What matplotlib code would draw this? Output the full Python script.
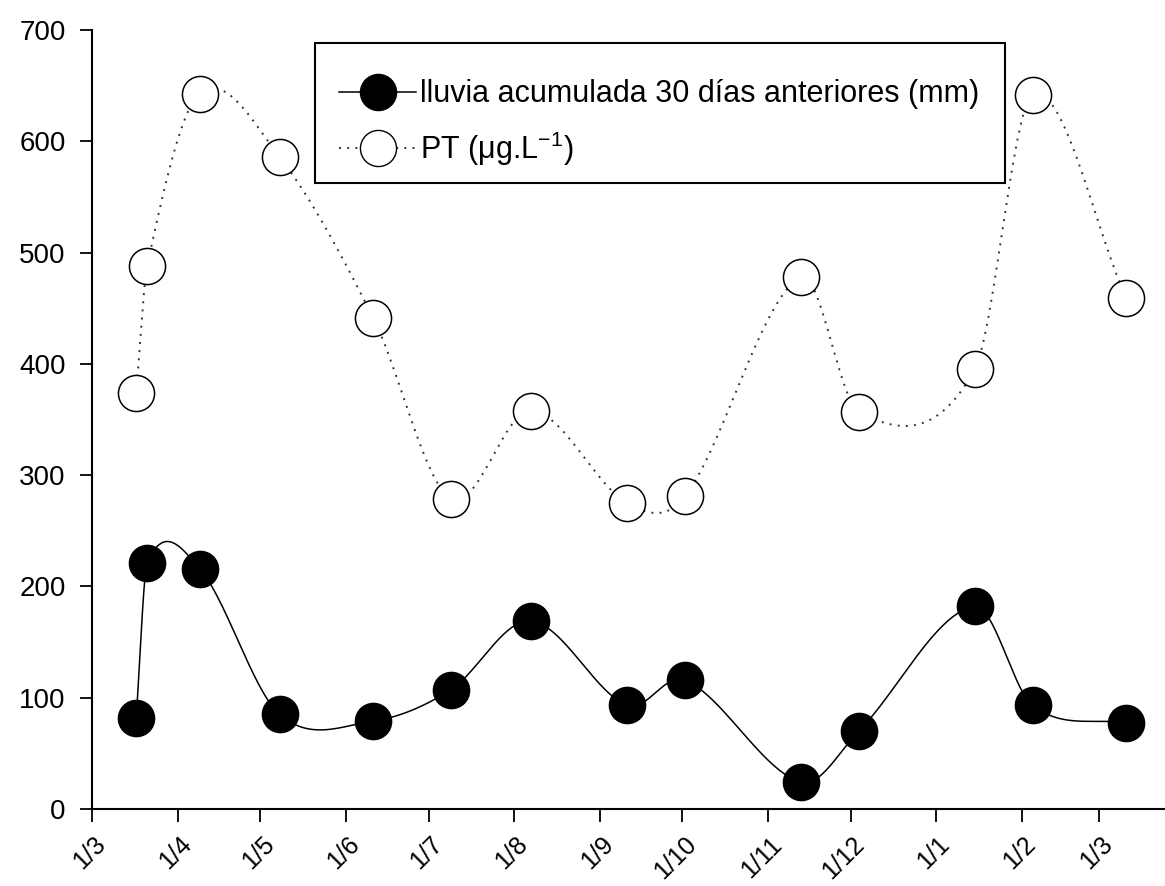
import numpy as np
import matplotlib
matplotlib.use("Agg")
import matplotlib.pyplot as plt
import matplotlib.dates as mdates
from matplotlib.lines import Line2D
from matplotlib.patches import Rectangle
from matplotlib.transforms import ScaledTranslation

plt.rcParams['font.family'] = ['Liberation Sans', 'DejaVu Sans']
plt.rcParams['mathtext.default'] = 'regular'

dates = ["2010-03-17", "2010-03-21", "2010-04-09", "2010-05-08", "2010-06-11",
         "2010-07-09", "2010-08-07", "2010-09-11", "2010-10-02", "2010-11-13",
         "2010-12-04", "2011-01-15", "2011-02-05", "2011-03-11"]
lluvia = [82, 221, 216, 85, 79, 107, 169, 93, 116, 24, 70, 182, 93, 77]
pt = [374, 488, 643, 586, 441, 279, 358, 275, 281, 478, 357, 395, 642, 459]
tick_dates = ["2010-03-01", "2010-04-01", "2010-05-01", "2010-06-01", "2010-07-01",
              "2010-08-01", "2010-09-01", "2010-10-01", "2010-11-01", "2010-12-01",
              "2011-01-01", "2011-02-01", "2011-03-01"]
tick_labels = ["1/3", "1/4", "1/5", "1/6", "1/7", "1/8", "1/9", "1/10",
               "1/11", "1/12", "1/1", "1/2", "1/3"]
label_lluvia = "lluvia acumulada 30 días anteriores (mm)"
label_pt = "PT (μg.L$^{-1}$)"

x = mdates.datestr2num(dates)
xt = mdates.datestr2num(tick_dates)


def catmull_rom(t, y, n=3000):
    t = np.asarray(t, float)
    y = np.asarray(y, float)
    m = np.zeros(len(t))
    m[1:-1] = (y[2:] - y[:-2]) / (t[2:] - t[:-2])
    m[0] = (y[1] - y[0]) / (t[1] - t[0])
    m[-1] = (y[-1] - y[-2]) / (t[-1] - t[-2])
    tt = np.linspace(t[0], t[-1], n)
    out = np.empty_like(tt)
    for k, v in enumerate(tt):
        i = min(max(np.searchsorted(t, v) - 1, 0), len(t) - 2)
        h = t[i + 1] - t[i]
        s = (v - t[i]) / h
        out[k] = ((2 * s**3 - 3 * s**2 + 1) * y[i] + (s**3 - 2 * s**2 + s) * h * m[i]
                  + (-2 * s**3 + 3 * s**2) * y[i + 1] + (s**3 - s**2) * h * m[i + 1])
    return tt, out


W, H = 1165, 886
fig = plt.figure(figsize=(W / 100, H / 100), dpi=100)
ax = fig.add_axes([0.079, 0.087, 0.921, 0.879])

sx1, sy1 = catmull_rom(x, lluvia)
sx2, sy2 = catmull_rom(x, pt)
dot_style = (0, (1, 3.2))
ax.plot(sx2, sy2, color='#333333', lw=1.4, ls=dot_style, zorder=2)
ax.plot(sx1, sy1, color='black', lw=1.1, zorder=2)
ax.plot(x, pt, ls='none', marker='o', ms=26, mfc='white', mec='black', mew=1.1, zorder=3)
ax.plot(x, lluvia, ls='none', marker='o', ms=26, mfc='black', mec='black', mew=1.1, zorder=4)

ax.set_xlim(mdates.datestr2num("2010-03-01"), mdates.datestr2num("2011-03-25"))
ax.set_ylim(0, 700)
ax.set_xticks(xt)
ax.set_xticklabels(tick_labels, rotation=45, ha='right', va='center',
                   rotation_mode='anchor', fontsize=18)
ax.set_yticks(np.arange(0, 701, 100))
ax.spines['top'].set_visible(False)
ax.spines['right'].set_visible(False)
ax.spines['left'].set_linewidth(1.5)
ax.spines['bottom'].set_linewidth(1.5)
ax.tick_params(axis='both', direction='out', length=9, width=1.3, colors='black')
ax.tick_params(axis='y', pad=10, labelsize=20)
ax.tick_params(axis='x', pad=14)
shift = ScaledTranslation(10 / 100, 0, fig.dpi_scale_trans)
for lab in ax.get_xticklabels():
    lab.set_transform(lab.get_transform() + shift)

handles = [
    Line2D([], [], color='black', lw=1.1, marker='o', ms=26, mfc='black', mec='black'),
    Line2D([], [], color='#333333', lw=1.4, ls=dot_style, marker='o', ms=26, mfc='white', mec='black'),
]
leg = ax.legend(handles, [label_lluvia, label_pt], loc='upper left',
                bbox_to_anchor=(315 / W, 1 - 55 / H), bbox_transform=fig.transFigure,
                fontsize=22, frameon=False,
                handlelength=2.5, handletextpad=0.15, borderpad=0.8, labelspacing=0.65,
                borderaxespad=0)
leg.set_zorder(7)
frame = Rectangle((315 / W, 1 - 183 / H), 690 / W, 140 / H,
                  transform=fig.transFigure, facecolor='white',
                  edgecolor='black', lw=1.5, zorder=6, clip_on=False)
ax.add_artist(frame)

fig.savefig("out.png", dpi=100)
